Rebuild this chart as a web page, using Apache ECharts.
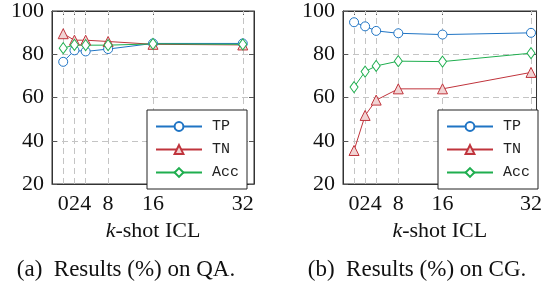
<!DOCTYPE html>
<html>
<head>
<meta charset="utf-8">
<script src="https://cdn.jsdelivr.net/npm/echarts@6/dist/echarts.min.js"></script>
<style>
  body { margin: 0; background: #fff; }
  #chart { width: 545px; height: 286px; }
</style>
</head>
<body>
<div id="chart"></div>
<script>
// k-shot values on the x axis
const shots = [0, 2, 4, 8, 16, 32];
const yTicks = [20, 40, 60, 80, 100];

// (a) QA
const qaTP = [76.5, 81.8, 81.3, 82.4, 85.0, 85.0];
const qaTN = [89.5, 86.5, 86.5, 85.9, 84.6, 84.3];
const qaAcc = [82.8, 84.3, 84.2, 84.2, 84.8, 84.6];

// (b) CG
const cgTP = [94.8, 92.9, 90.8, 89.7, 89.1, 89.9];
const cgTN = [35.5, 51.7, 58.8, 64.0, 64.0, 71.6];
const cgAcc = [64.8, 72.0, 74.6, 76.8, 76.6, 80.5];

const captions = ['(a)  Results (%) on QA.', '(b)  Results (%) on CG.'];

const BLUE = '#1f74c4';
const RED = '#c0343c';
const GREEN = '#1fae4f';
const serif = 'Liberation Serif';
const mono = 'Liberation Mono';

let chart = echarts.init(document.getElementById('chart'));

const pairs = (ys) => shots.map((x, i) => [x, ys[i]]);

// one plot = bottom/left axes with labels, top/right axes with ticks only
function xAxes (grid, max) {
	let base = {
		gridIndex: grid, type: 'value', min: -2, max: max,
		splitLine: { show: false },
		axisLine: { show: true, onZero: false, lineStyle: { color: '#333', width: 1 } },
		axisTick: { show: true, inside: true, length: 4, customValues: shots,
			lineStyle: { color: '#555' } }
	};
	return [
		Object.assign({}, base, {
			position: 'bottom',
			axisLabel: { customValues: shots, margin: 9, color: '#111',
				fontFamily: serif, fontSize: 22 },
			name: '{i|k}-shot ICL',
			nameLocation: 'middle',
			nameGap: 34,
			nameTextStyle: { fontFamily: serif, fontSize: 22, color: '#111',
				rich: { i: { fontFamily: serif, fontSize: 22, fontStyle: 'italic', color: '#111' } } }
		}),
		Object.assign({}, base, { position: 'top', axisLabel: { show: false } })
	];
};

function yAxes (grid) {
	let base = {
		gridIndex: grid, type: 'value', min: yTicks[0], max: yTicks[yTicks.length - 1], interval: 20,
		axisLine: { show: true, onZero: false, lineStyle: { color: '#333', width: 1 } },
		axisTick: { show: true, inside: true, length: 5, lineStyle: { color: '#555' } }
	};
	return [
		Object.assign({}, base, {
			position: 'left',
			splitLine: { show: true, lineStyle: { color: '#c4c4c4', type: [6, 4], width: 1 } },
			axisLabel: { margin: 8, color: '#111', fontFamily: serif, fontSize: 22 }
		}),
		Object.assign({}, base, { position: 'right', splitLine: { show: false }, axisLabel: { show: false } })
	];
};

function makeSeries (name, ys, color, symbol, fill, size, axis, withGrid) {
	let s = {
		name: name,
		type: 'line',
		xAxisIndex: axis, yAxisIndex: axis,
		data: pairs(ys),
		symbol: symbol,
		symbolSize: size,
		lineStyle: { color: color, width: 1 },
		itemStyle: { color: fill, borderColor: color, borderWidth: 1 },
		animation: false,
		z: 3
	};
	if (withGrid) {
		s.markLine = {
			silent: true, symbol: 'none', label: { show: false },
			lineStyle: { color: '#c4c4c4', type: [6, 4], width: 1 },
			data: shots.map(x => ({ xAxis: x })),
			animation: false,
			z: 1
		};
	}
	return s;
};

function legendAt (left) {
	return {
		left: left, top: 110, width: 100, height: 68,
		orient: 'vertical',
		data: ['TP', 'TN', 'Acc'],
		backgroundColor: '#fff',
		borderColor: '#222', borderWidth: 1, borderRadius: 0,
		padding: [9, 8, 9, 8],
		itemWidth: 46, itemHeight: 11, itemGap: 8,
		selectedMode: false,
		textStyle: { fontFamily: mono, fontSize: 15, color: '#222', lineHeight: 11, padding: [0, 0, 0, 5] }
	};
};

chart.setOption({
	animation: false,
	grid: [
		{ left: 52, right: 291, top: 10, bottom: 102, show: true, borderColor: '#333', borderWidth: 1 },
		{ left: 343, right: 6, top: 10, bottom: 102, show: true, borderColor: '#333', borderWidth: 1 }
	],
	xAxis: [].concat(xAxes(0, 34), xAxes(1, 33)),
	yAxis: [].concat(yAxes(0), yAxes(1)),
	legend: [legendAt(147), legendAt(438)],
	series: [
		makeSeries('TP', qaTP, BLUE, 'circle', '#fff', 9, 0, true),
		makeSeries('TN', qaTN, RED, 'triangle', '#f1d3d3', 10, 0, false),
		makeSeries('Acc', qaAcc, GREEN, 'diamond', '#fff', [8, 11], 0, false),
		makeSeries('TP', cgTP, BLUE, 'circle', '#fff', 9, 2, true),
		makeSeries('TN', cgTN, RED, 'triangle', '#f1d3d3', 10, 2, false),
		makeSeries('Acc', cgAcc, GREEN, 'diamond', '#fff', [8, 11], 2, false)
	],
	graphic: captions.map((t, i) => ({
		type: 'text',
		x: i === 0 ? 126 : 417,
		y: 270,
		style: { text: t, fontFamily: serif, fontSize: 23, fill: '#111',
			align: 'center', verticalAlign: 'middle' }
	}))
});
</script>
</body>
</html>
